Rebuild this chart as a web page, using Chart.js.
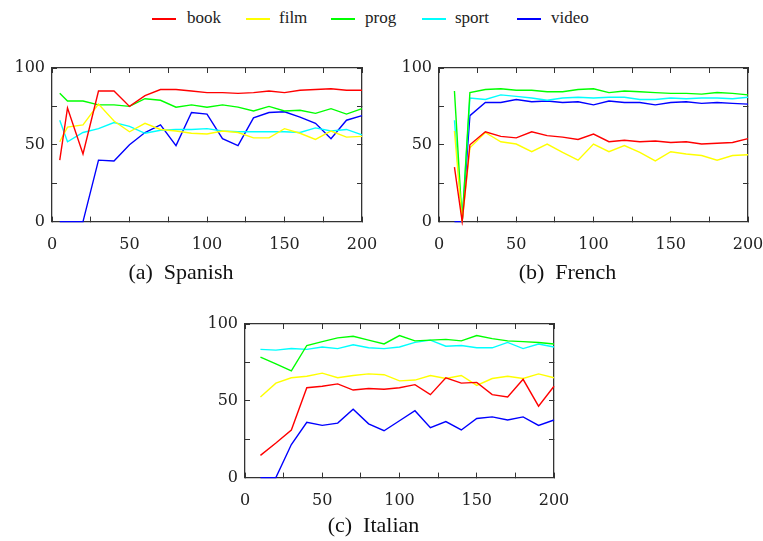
<!DOCTYPE html>
<html>
<head>
<meta charset="utf-8">
<script src="https://cdn.jsdelivr.net/npm/chart.js@4.4.0/dist/chart.umd.min.js"></script>
<style>
  html, body { margin: 0; padding: 0; background: #fff; overflow: hidden; }
  body { width: 763px; height: 541px; position: relative; font-family: "Liberation Serif", serif; }
  canvas { position: absolute; }
  .leg { position: absolute; top: 8px; font-size: 17px; color: #222; }
  .sw { position: absolute; top: 18px; height: 1.5px; width: 24px; }
</style>
</head>
<body>
<div class="sw" style="left:152px;background:#ff0000"></div><div class="leg" style="left:187px">book</div>
<div class="sw" style="left:246px;background:#ffff00"></div><div class="leg" style="left:279px">film</div>
<div class="sw" style="left:331px;background:#00ff00"></div><div class="leg" style="left:365px">prog</div>
<div class="sw" style="left:422px;background:#00ffff"></div><div class="leg" style="left:455px">sport</div>
<div class="sw" style="left:517px;background:#0000ff"></div><div class="leg" style="left:551px">video</div>

<canvas id="spanish" width="380" height="230" style="left:0px;top:58px"></canvas>
<canvas id="french" width="376" height="230" style="left:387px;top:58px"></canvas>
<canvas id="italian" width="380" height="227" style="left:193px;top:314px"></canvas>

<script>
// series names and colours
const seriesNames = ['book', 'film', 'prog', 'sport', 'video'];
const seriesColors = ['#ff0000', '#ffff00', '#00ff00', '#00ffff', '#0000ff'];
const xTicks = [0, 50, 100, 150, 200];
const yTicks = [0, 50, 100];

// (a) Spanish
const spanishX = [5, 10, 20, 30, 40, 50, 60, 70, 80, 90, 100, 110, 120, 130, 140, 150, 160, 170, 180, 190, 200];
const spanishBook = [40, 74, 44, 85, 85, 75, 82, 86, 86, 85, 84, 84, 83.5, 84, 85, 84, 85.5, 86, 86.5, 85.5, 85.5];
const spanishFilm = [52, 61.5, 63, 76.5, 65.5, 58.5, 64, 60, 59, 57.5, 57, 59, 58, 54.5, 54.5, 60.5, 57.5, 53.5, 59, 55, 55.5];
const spanishProg = [83.5, 78.5, 78.5, 76, 76, 75, 80, 79, 74.5, 76, 74.5, 76, 74.5, 72, 75, 72, 72.5, 70.5, 73.5, 70, 73.5];
const spanishSport = [66, 52, 58, 60.5, 64.5, 62, 57.5, 59.5, 60, 60, 60.5, 59, 58.5, 58.5, 58.5, 58.5, 58, 61, 59, 60, 56.5];
const spanishVideo = [0, 0, 0, 40, 39.5, 50, 58, 63, 49.5, 71, 70, 54, 49.5, 67.5, 71, 71.5, 68, 64, 54, 66, 69];

// (b) French
const frenchX = [10, 15, 20, 30, 40, 50, 60, 70, 80, 90, 100, 110, 120, 130, 140, 150, 160, 170, 180, 190, 200];
const frenchBook = [35.5, 0, 50, 58.5, 55.5, 54.5, 58.5, 56, 55, 53.5, 57, 52, 53, 52, 52.5, 51.5, 52, 50.5, 51, 51.5, 54];
const frenchFilm = [59, 0, 48, 58, 52, 50.5, 45.5, 50.5, 45, 40, 50.5, 45.5, 49.5, 45, 39.5, 45.5, 44, 43, 40, 43, 43.5];
const frenchProg = [85, 0, 84, 86, 86.5, 85.5, 85.5, 84.5, 84.5, 86, 86.5, 84, 85, 84.5, 84, 83.5, 83.5, 83, 84, 83.5, 82.5];
const frenchSport = [66, 0, 80.5, 79.5, 82.5, 81.5, 80.5, 79, 80.5, 81, 80.5, 81, 81, 79.5, 79.5, 80.5, 80, 80.5, 80.5, 80, 81];
const frenchVideo = [0, 0, 69, 77.5, 77.5, 79.5, 78, 78.5, 77.5, 78, 76, 78.5, 77.5, 77.5, 76, 77.5, 78, 77, 77.5, 77, 76.5];

// (c) Italian
const italianX = [10, 20, 30, 40, 50, 60, 70, 80, 90, 100, 110, 120, 130, 140, 150, 160, 170, 180, 190, 200];
const italianBook = [14.5, 22.5, 31, 58.5, 59.5, 61, 57, 58, 57.5, 58.5, 60.5, 54, 65, 61.5, 62, 54, 52.5, 64, 46.5, 59.5];
const italianFilm = [52.5, 61.5, 65, 66, 68, 65, 66.5, 67.5, 67, 63, 63.5, 66.5, 64.5, 66.5, 60, 64.5, 66, 64.5, 67.5, 65];
const italianProg = [78.5, 74, 69.5, 86, 88.5, 91, 92, 89.5, 87, 92.5, 89, 89.5, 90, 89, 92.5, 90.5, 89, 88.5, 88, 87];
const italianSport = [83.5, 83, 84, 83.5, 85, 84, 86.5, 84.5, 84, 85, 88, 89.5, 85.5, 86, 84.5, 84.5, 88, 84, 87, 85];
const italianVideo = [0, 0, 21.5, 36, 34, 35.5, 44.5, 35, 30.5, 37, 43.5, 32.5, 36.5, 31, 38.5, 39.5, 37.5, 39.5, 34, 37.5];

const serif = '"Liberation Serif", "Times New Roman", serif';
const tickFont = { family: '"DejaVu Serif", serif', size: 16 };
const frameColor = '#333';

// negative tickLength draws the tick marks inward, gnuplot style
const gridStyle = { display: true, drawOnChartArea: false, drawTicks: true, tickLength: -5, color: frameColor, lineWidth: 1 };
const borderStyle = { display: true, color: frameColor, width: 1.3 };

function makePanel(id, caption, xs, series, padRight, xAxisH) {
  const datasets = series.map((ys, i) => ({
    label: seriesNames[i],
    data: xs.map((x, j) => ({ x: x, y: ys[j] })),
    borderColor: seriesColors[i],
    backgroundColor: seriesColors[i],
    borderWidth: 1.4,
    pointRadius: 0,
    tension: 0,
    clip: 4
  }));
  new Chart(document.getElementById(id), {
    type: 'line',
    data: { datasets },
    options: {
      responsive: false,
      animation: false,
      events: [],
      layout: { padding: { top: 10, right: padRight, left: 0, bottom: 0 } },
      plugins: {
        legend: { display: false },
        tooltip: { enabled: false },
        title: {
          display: true,
          position: 'bottom',
          text: caption,
          color: '#111',
          font: { family: serif, size: 22, weight: 'normal' },
          padding: { top: 6, bottom: 2 }
        }
      },
      scales: {
        x: {
          type: 'linear',
          position: 'bottom',
          min: 0, max: 200,
          grid: gridStyle,
          border: borderStyle,
          afterFit: s => { s.height = xAxisH; s.paddingLeft = 0; s.paddingRight = 0; },
          ticks: {
            stepSize: 25,
            padding: 19,
            maxRotation: 0,
            autoSkip: false,
            color: '#222',
            font: tickFont,
            callback: v => xTicks.includes(v) ? String(v) : ''
          }
        },
        x2: {
          type: 'linear',
          position: 'top',
          min: 0, max: 200,
          grid: gridStyle,
          border: borderStyle,
          afterFit: s => { s.height = 0; s.paddingLeft = 0; s.paddingRight = 0; },
          ticks: { stepSize: 25, display: false }
        },
        y: {
          position: 'left',
          min: 0, max: 100,
          grid: gridStyle,
          border: borderStyle,
          afterFit: s => { s.width = 52; s.paddingTop = 0; s.paddingBottom = 0; },
          ticks: {
            stepSize: 25,
            padding: 12,
            autoSkip: false,
            color: '#222',
            font: tickFont,
            callback: v => yTicks.includes(v) ? String(v) : ''
          }
        },
        y2: {
          type: 'linear',
          position: 'right',
          min: 0, max: 100,
          grid: gridStyle,
          border: borderStyle,
          afterFit: s => { s.width = 0; s.paddingTop = 0; s.paddingBottom = 0; },
          ticks: { stepSize: 25, display: false }
        }
      }
    }
  });
}

makePanel('spanish', '(a)  Spanish', spanishX,
  [spanishBook, spanishFilm, spanishProg, spanishSport, spanishVideo], 18, 32);
makePanel('french', '(b)  French', frenchX,
  [frenchBook, frenchFilm, frenchProg, frenchSport, frenchVideo], 15, 32);
makePanel('italian', '(c)  Italian', italianX,
  [italianBook, italianFilm, italianProg, italianSport, italianVideo], 19, 29);
</script>
</body>
</html>
